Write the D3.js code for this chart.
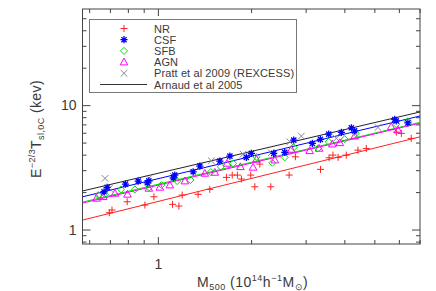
<!DOCTYPE html>
<html>
<head>
<meta charset="utf-8">
<script src="https://cdn.jsdelivr.net/npm/d3@7"></script>
<style>
  body { margin: 0; background: #fff; }
  text { font-family: "Liberation Sans", Arial, sans-serif; fill: #3a3a3a; }
</style>
</head>
<body>
<div id="chart-area"></div>
<script>
// simulated clusters (mass in 1e14 h^-1 Msun, scaled temperature in keV)
var nrM = [0.697, 0.711, 0.796, 0.908, 0.971, 1.115, 1.169, 1.198, 1.349, 1.471, 1.665, 1.738, 1.806, 1.861, 1.995,
           2.056, 2.133, 2.315, 2.653, 2.780, 3.350, 3.571, 3.675, 3.818, 4.059, 4.426, 4.710, 5.888, 6.110, 6.577];
var nrT = [1.365, 1.435, 1.672, 1.573, 1.834, 1.594, 1.545, 1.892, 1.918, 2.103, 2.625, 2.740, 2.740, 2.545, 2.740,
           2.207, 3.358, 2.207, 2.740, 3.844, 3.045, 3.774, 3.966, 3.802, 3.966, 4.350, 4.487, 6.070, 5.928, 5.405];

var csfM = [0.670, 0.686, 0.786, 0.864, 0.924, 0.935, 1.121, 1.134, 1.300, 1.366, 1.585, 1.708, 1.931,
            2.004, 2.366, 2.568, 2.746, 3.153, 3.347, 3.561, 3.912, 4.215, 4.318, 5.818, 5.883, 6.415];
var csfT = [2.012, 2.182, 2.319, 2.452, 2.375, 2.466, 2.606, 2.740, 2.911, 3.236, 3.549, 3.894, 3.802,
            4.093, 4.093, 4.169, 5.233, 4.922, 5.302, 5.848, 6.035, 6.575, 6.220, 7.676, 7.481, 7.211];

var sfbM = [0.642, 0.675, 0.760, 0.843, 0.937, 1.027, 1.154, 1.274, 1.482, 1.597, 1.749, 2.081, 2.343,
            2.568, 2.746, 3.289, 3.561, 4.011, 4.352, 5.883, 6.415];
var sfbT = [1.892, 1.918, 2.103, 2.103, 2.182, 2.276, 2.452, 2.499, 2.896, 3.193, 3.401, 3.844, 3.441,
            3.802, 4.572, 4.487, 5.072, 5.333, 5.928, 7.036, 7.434];

var agnM = [0.634, 0.666, 0.727, 0.798, 0.935, 1.015, 1.093, 1.222, 1.418, 1.527, 1.673, 1.847, 2.029,
            2.081, 2.385, 2.697, 3.091, 3.313, 3.658, 3.866, 4.318, 5.669, 5.959];
var agnT = [1.781, 1.834, 1.953, 1.918, 2.142, 2.182, 2.276, 2.452, 2.827, 2.878, 3.401, 3.193, 3.160,
            3.662, 3.614, 4.406, 4.295, 4.487, 4.860, 4.980, 5.636, 6.695, 6.300];

// Pratt et al 2009 (REXCESS)
var prattM = [0.675, 0.697, 0.935, 1.121, 1.489, 1.885, 2.324, 2.666, 2.906, 3.768, 5.136];
var prattT = [2.577, 2.142, 2.577, 2.690, 3.570, 4.040, 4.140, 5.072, 5.636, 5.405, 6.619];

// power-law fits T = norm * M^slope
var fitNames = ["Arnaud", "CSF", "SFB", "AGN", "NR"];
var fitNorm  = [2.83, 2.56, 2.31, 2.27, 1.68];
var fitSlope = [0.583, 0.596, 0.588, 0.590, 0.614];
var fitColor = ["#222", "#0000ff", "#00e000", "#ff00ff", "#ff2020"];

var legendLabels = ["NR", "CSF", "SFB", "AGN", "Pratt et al 2009 (REXCESS)", "Arnaud et al 2005"];

var xMajor = [1], xMinor = [0.6, 0.7, 0.8, 0.9, 2, 3, 4, 5, 6, 7];
var yMajor = [1, 10], yMinor = [0.8, 0.9, 2, 3, 4, 5, 6, 7, 8, 9, 20, 30, 40, 50];

var W = 436, H = 291;
var pL = 82.5, pR = 420, pT = 9, pB = 244;

var svg = d3.select("#chart-area")
    .append("svg")
    .attr("width", W)
    .attr("height", H);

var x = d3.scaleLog().domain([0.571, 7.02]).range([pL, pR]);
var y = d3.scaleLog().domain([0.765, 59.3]).range([pB, pT]);

// clip for the fit lines
svg.append("clipPath").attr("id", "clip")
  .append("rect").attr("x", pL).attr("y", pT)
  .attr("width", pR - pL).attr("height", pB - pT);

// axes, ticks inward on all four sides
function styleAxis(g) {
    g.select(".domain").remove();
    g.selectAll("line").attr("stroke", "#444");
    g.selectAll("text").attr("fill", "#3a3a3a").style("font-size", "14px")
        .style("font-family", "Liberation Sans, Arial, sans-serif");
}
svg.append("g").attr("transform", "translate(0," + pB + ")")
    .call(d3.axisBottom(x).tickValues(xMajor).tickSize(-7).tickPadding(15).tickFormat(d3.format("d"))).call(styleAxis);
svg.append("g").attr("transform", "translate(0," + pB + ")")
    .call(d3.axisBottom(x).tickValues(xMinor).tickSize(-4).tickFormat("")).call(styleAxis);
svg.append("g").attr("transform", "translate(0," + pT + ")")
    .call(d3.axisTop(x).tickValues(xMajor).tickSize(-7).tickFormat("")).call(styleAxis);
svg.append("g").attr("transform", "translate(0," + pT + ")")
    .call(d3.axisTop(x).tickValues(xMinor).tickSize(-4).tickFormat("")).call(styleAxis);

svg.append("g").attr("transform", "translate(" + pL + ",0)")
    .call(d3.axisLeft(y).tickValues(yMajor).tickSize(-8).tickPadding(6).tickFormat(d3.format("d"))).call(styleAxis);
svg.append("g").attr("transform", "translate(" + pL + ",0)")
    .call(d3.axisLeft(y).tickValues(yMinor).tickSize(-4).tickFormat("")).call(styleAxis);
svg.append("g").attr("transform", "translate(" + pR + ",0)")
    .call(d3.axisRight(y).tickValues(yMajor).tickSize(-8).tickFormat("")).call(styleAxis);
svg.append("g").attr("transform", "translate(" + pR + ",0)")
    .call(d3.axisRight(y).tickValues(yMinor).tickSize(-4).tickFormat("")).call(styleAxis);

svg.append("rect")
    .attr("x", pL).attr("y", pT)
    .attr("width", pR - pL).attr("height", pB - pT)
    .attr("fill", "none").attr("stroke", "#444").attr("stroke-width", 1);

// marker shapes
function markerPath(kind, r) {
    if (kind == "plus") return "M" + (-r) + ",0H" + r + "M0," + (-r) + "V" + r;
    if (kind == "x") return "M" + (-r) + "," + (-r) + "L" + r + "," + r + "M" + (-r) + "," + r + "L" + r + "," + (-r);
    if (kind == "star") {
        var a = r * 0.72;
        return "M" + (-r) + ",0H" + r + "M0," + (-r) + "V" + r +
               "M" + (-a) + "," + (-a) + "L" + a + "," + a + "M" + (-a) + "," + a + "L" + a + "," + (-a);
    }
    if (kind == "diamond") return "M0," + (-r) + "L" + r + ",0L0," + r + "L" + (-r) + ",0Z";
    if (kind == "tri") return "M0," + (-r) + "L" + (r * 0.95) + "," + (r * 0.7) + "L" + (-r * 0.95) + "," + (r * 0.7) + "Z";
}

// fit lines
var lineGen = d3.line().x(function(d) { return x(d[0]); }).y(function(d) { return y(d[1]); });
var fitLines = svg.append("g").attr("clip-path", "url(#clip)");
fitNames.forEach(function(n, i) {
    var ends = x.domain().map(function(m) { return [m, fitNorm[i] * Math.pow(m, fitSlope[i])]; });
    fitLines.append("path")
        .attr("d", lineGen(ends))
        .attr("fill", "none")
        .attr("stroke", fitColor[i])
        .attr("stroke-width", 1);
});

var series = [
    { m: prattM, t: prattT, kind: "x", r: 3.3, color: "#888", sw: 1 },
    { m: nrM, t: nrT, kind: "plus", r: 3.5, color: "#ff2020", sw: 1 },
    { m: agnM, t: agnT, kind: "tri", r: 4, color: "#ff00ff", sw: 1 },
    { m: sfbM, t: sfbT, kind: "diamond", r: 3.5, color: "#00e000", sw: 1 },
    { m: csfM, t: csfT, kind: "star", r: 3.6, color: "#0000ff", sw: 1.3 }
];

series.forEach(function(s) {
    var pts = s.m.map(function(m, i) { return [m, s.t[i]]; });
    svg.append("g").selectAll("path")
        .data(pts)
        .enter()
        .append("path")
            .attr("transform", function(d) { return "translate(" + x(d[0]) + "," + y(d[1]) + ")"; })
            .attr("d", markerPath(s.kind, s.r))
            .attr("fill", "none")
            .attr("stroke", s.color)
            .attr("stroke-width", s.sw);
});

// legend
var leg = svg.append("g");
leg.append("rect")
    .attr("x", 89.5).attr("y", 19.5).attr("width", 207).attr("height", 73)
    .attr("fill", "#fff").attr("stroke", "#777").attr("stroke-width", 1);
var legKinds = [
    { kind: "plus", r: 3.5, color: "#ff2020", sw: 1 },
    { kind: "star", r: 3.6, color: "#0000ff", sw: 1.3 },
    { kind: "diamond", r: 3.5, color: "#00e000", sw: 1 },
    { kind: "tri", r: 4, color: "#ff00ff", sw: 1 },
    { kind: "x", r: 3.3, color: "#888", sw: 1 },
    { kind: "line", color: "#333" }
];
legendLabels.forEach(function(lbl, i) {
    var ly = 28.5 + i * 11.2;
    var k = legKinds[i];
    if (k.kind == "line") {
        leg.append("line").attr("x1", 100).attr("x2", 147).attr("y1", ly).attr("y2", ly)
            .attr("stroke", k.color).attr("stroke-width", 1);
    } else {
        leg.append("path")
            .attr("transform", "translate(124," + ly + ")")
            .attr("d", markerPath(k.kind, k.r))
            .attr("fill", "none").attr("stroke", k.color).attr("stroke-width", k.sw);
    }
    leg.append("text")
        .attr("x", 154).attr("y", ly + 4)
        .style("font-size", "11px")
        .style("letter-spacing", "0.1px")
        .text(lbl);
});

// axis titles
var xt = svg.append("text")
    .attr("x", 197).attr("y", 287)
    .style("font-size", "14px")
    .style("letter-spacing", "0.5px");
xt.append("tspan").text("M");
xt.append("tspan").attr("dy", 3).style("font-size", "9px").text("500");
xt.append("tspan").attr("dy", -3).text("  (10");
xt.append("tspan").attr("dy", -6).style("font-size", "9px").text("14");
xt.append("tspan").attr("dy", 6).text("h");
xt.append("tspan").attr("dy", -6).style("font-size", "9px").text("\u22121");
xt.append("tspan").attr("dy", 6).text("M");
xt.append("tspan").attr("dy", 3).style("font-size", "9px").text("\u2299");
xt.append("tspan").attr("dy", -3).text(")");

var yt = svg.append("text")
    .attr("transform", "translate(41,129) rotate(-90)")
    .attr("text-anchor", "middle")
    .style("font-size", "14px")
    .style("letter-spacing", "0.4px");
yt.append("tspan").text("E");
yt.append("tspan").attr("dy", -6).style("font-size", "9px").text("\u22122/3");
yt.append("tspan").attr("dy", 6).text("T");
yt.append("tspan").attr("dy", 3).style("font-size", "9px").text("sl,0C");
yt.append("tspan").attr("dy", -3).text("  (kev)");
</script>
</body>
</html>
